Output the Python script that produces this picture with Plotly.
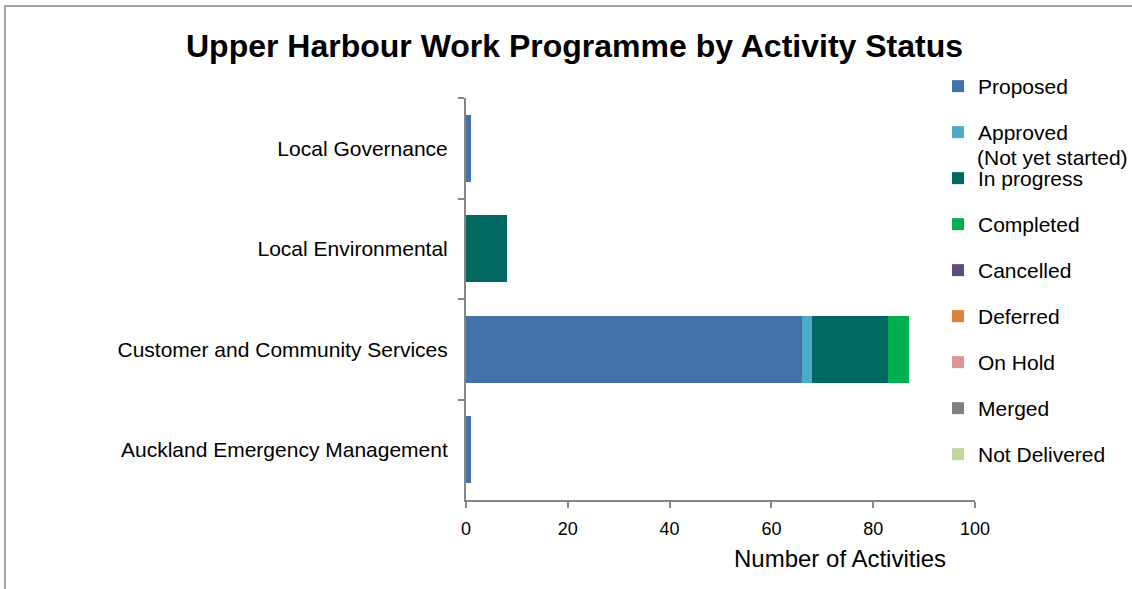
import plotly.graph_objects as go

categories = ["Local Governance", "Local Environmental", "Customer and Community Services", "Auckland Emergency Management"]
statuses = ["Proposed", "Approved", "In progress", "Completed", "Cancelled", "Deferred", "On Hold", "Merged", "Not Delivered"]
proposed = [1, 0, 66, 1]
approved = [0, 0, 2, 0]
in_progress = [0, 8, 15, 0]
completed = [0, 0, 4, 0]
cancelled = [0, 0, 0, 0]
deferred = [0, 0, 0, 0]
on_hold = [0, 0, 0, 0]
merged = [0, 0, 0, 0]
not_delivered = [0, 0, 0, 0]
x_ticks = [0, 20, 40, 60, 80, 100]

series = [proposed, approved, in_progress, completed, cancelled, deferred, on_hold, merged, not_delivered]
colors = ["#4472A8", "#4BACC6", "#006861", "#00B050", "#604A7B", "#E0833A", "#D99694", "#808080", "#C3D69B"]

FONT = "Liberation Sans, Arial, sans-serif"

fig = go.Figure()
for name, vals, col in zip(statuses, series, colors):
    fig.add_trace(go.Bar(
        y=categories, x=vals, name=name, orientation="h",
        marker=dict(color=col, line=dict(width=0)),
        legendgroup=name,
    ))

L, R, T, B = 466, 157, 98, 89
W, H = 1132, 589
pw, ph = W - L - R, H - T - B

def px_x(p):
    return (p - L) / pw

def px_y(p):
    return (H - B - p) / ph

fig.update_layout(
    width=W, height=H,
    margin=dict(l=L, r=R, t=T, b=B, pad=0),
    barmode="stack", bargap=0.33,
    plot_bgcolor="white", paper_bgcolor="white",
    font=dict(family=FONT, size=21, color="#000000"),
    title=dict(text="<b>Upper Harbour Work Programme by Activity Status</b>",
               font=dict(family=FONT, size=32, color="#000000"),
               x=574.5 / W, xref="container", xanchor="center",
               y=1 - 46 / H, yref="container", yanchor="middle"),
    showlegend=True,
    legend=dict(
        x=px_x(938), xanchor="left", y=px_y(66), yanchor="top",
        traceorder="grouped", tracegroupgap=15.7, maxheight=600,
        font=dict(family=FONT, size=21, color="#000000"),
        bgcolor="rgba(0,0,0,0)", itemwidth=30,
    ),
    xaxis=dict(
        range=[0, 100], tickvals=x_ticks, showgrid=False, zeroline=False,
        showline=True, linecolor="#868686", linewidth=2,
        ticks="outside", ticklen=6, tickcolor="#868686", tickwidth=2,
        ticklabelstandoff=5,
        tickfont=dict(family=FONT, size=18, color="#000000"),
    ),
    yaxis=dict(
        autorange="reversed", showgrid=False, zeroline=False,
        showline=True, linecolor="#868686", linewidth=2,
        ticks="outside", ticklen=6, tickcolor="#868686", tickwidth=2,
        tickson="boundaries", ticklabelstandoff=12,
        tickfont=dict(family=FONT, size=21, color="#000000"),
    ),
    shapes=[dict(type="rect", xref="paper", yref="paper",
                 x0=px_x(5), x1=px_x(1145), y0=px_y(600), y1=px_y(6),
                 line=dict(color="#868686", width=1.5), fillcolor="rgba(0,0,0,0)",
                 layer="below")],
    annotations=[
        dict(text="Number of Activities", xref="paper", yref="paper",
             x=px_x(839.5), y=px_y(558), xanchor="center", yanchor="middle",
             showarrow=False, font=dict(family=FONT, size=24, color="#000000")),
        dict(text="(Not yet started)", xref="paper", yref="paper",
             x=px_x(975), y=px_y(157), xanchor="left", yanchor="middle",
             showarrow=False, font=dict(family=FONT, size=21, color="#000000")),
    ],
)

fig.write_html("out.html")
